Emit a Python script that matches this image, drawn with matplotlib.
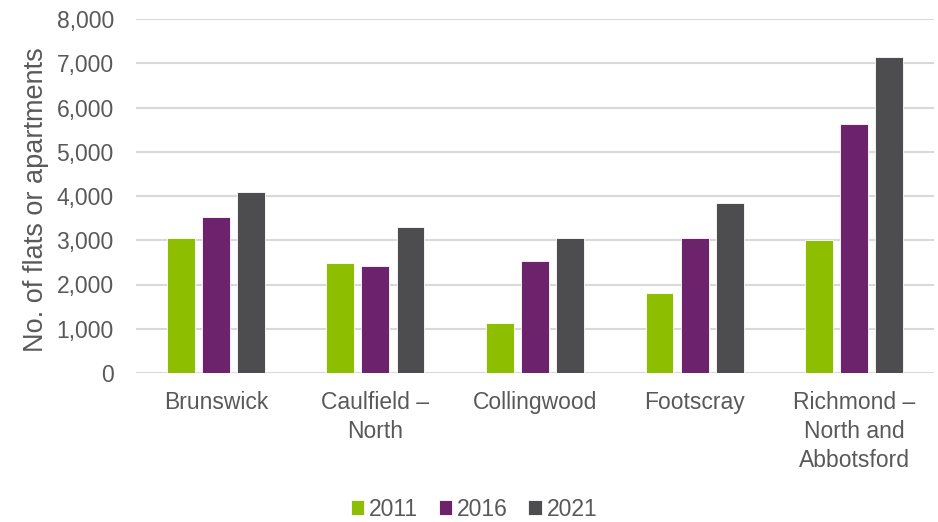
import matplotlib
matplotlib.use("Agg")
import matplotlib.pyplot as plt
import numpy as np

categories = ["Brunswick", "Caulfield –\nNorth", "Collingwood", "Footscray",
              "Richmond –\nNorth and\nAbbotsford"]
years = ["2011", "2016", "2021"]
v2011 = [3060, 2490, 1120, 1810, 3010]
v2016 = [3520, 2420, 2520, 3040, 5630]
v2021 = [4100, 3300, 3060, 3840, 7130]
yticks = [0, 1000, 2000, 3000, 4000, 5000, 6000, 7000, 8000]
colors = ["#8DBE00", "#6D236B", "#4D4D4F"]

plt.rcParams['font.family'] = ['Liberation Sans', 'DejaVu Sans']
txt = "#595959"
fs = 16.5

fig = plt.figure(figsize=(9.38, 5.22), dpi=100)
ax = fig.add_axes([136/938, 1-373/522, (934-136)/938, (373-19)/522])

x = np.arange(len(categories))
w = 0.175
step = 0.22
for i, (vals, c, lab) in enumerate(zip([v2011, v2016, v2021], colors, years)):
    ax.bar(x + (i-1)*step, vals, width=w, color=c, label=lab, zorder=3,
           edgecolor="white", linewidth=0.6)

ax.set_xlim(-0.5, len(categories)-0.5)
ax.set_ylim(0, 8000)
ax.set_yticks(yticks)
ax.set_yticklabels([f"{t:,}" for t in yticks], fontsize=fs, color=txt)
ax.set_xticks(x)
ax.set_xticklabels(categories, fontsize=fs, color=txt, linespacing=1.33)
ax.tick_params(axis='y', length=0, pad=16)
ax.tick_params(axis='x', length=0, pad=13)
ax.grid(axis='y', color="#d9d9d9", linewidth=1.5, zorder=0)
for s in ax.spines.values():
    s.set_visible(False)
ax.set_ylabel("No. of flats or apartments", fontsize=19.5, color=txt)
ax.yaxis.set_label_coords((49-136)/(934-136), 0.49)

handles, labels = ax.get_legend_handles_labels()
fig.legend(handles, labels, loc="center", bbox_to_anchor=(474/938, 1-509/522),
           ncol=3, frameon=False, fontsize=fs, labelcolor=txt, handlelength=0.6,
           handleheight=0.6, handletextpad=0.2, columnspacing=0.9)

fig.savefig("out.png", dpi=100)
